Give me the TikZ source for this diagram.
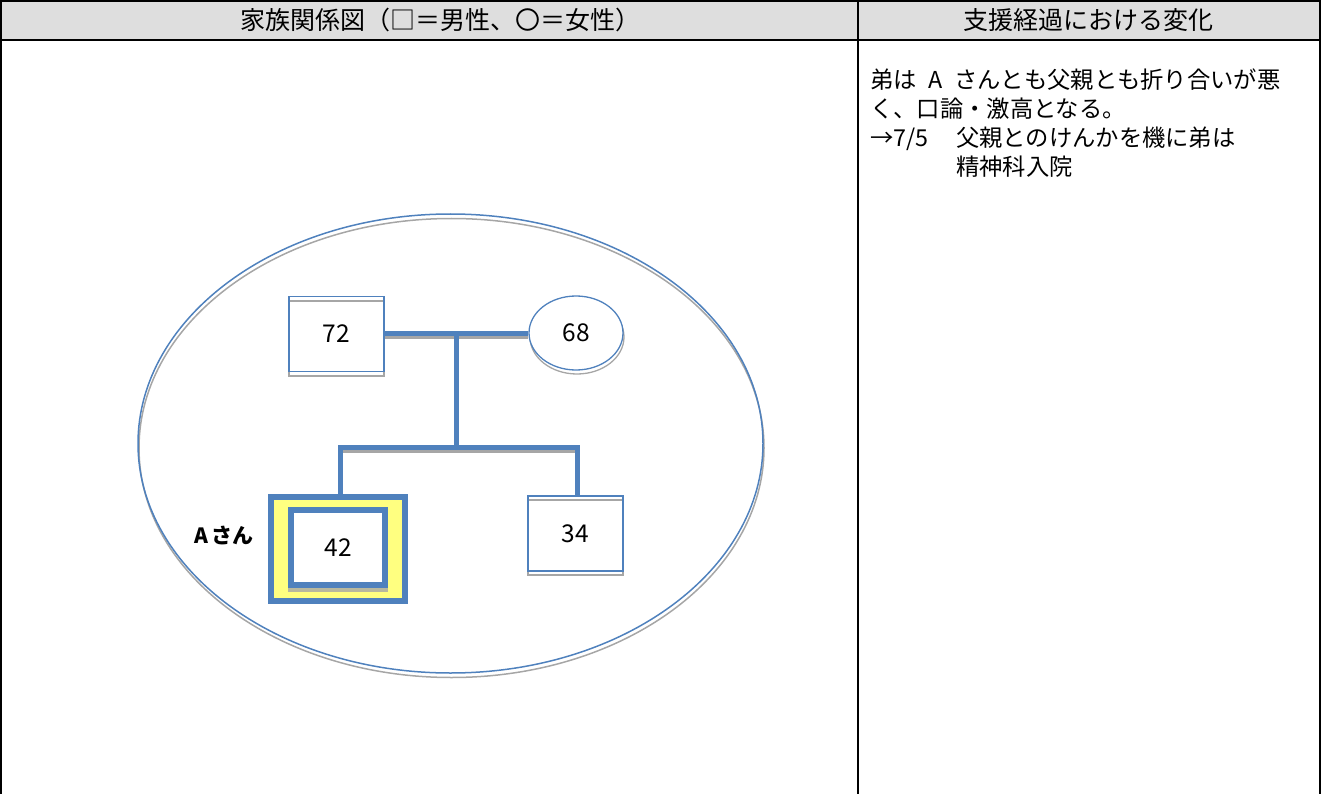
\documentclass[tikz,border=0pt]{standalone}
\usepackage{fontspec}
\setmainfont{Noto Sans CJK JP}
\usetikzlibrary{shapes.geometric}
\definecolor{oblue}{HTML}{4F81BD}
\definecolor{shgray}{HTML}{A6A6A6}
\definecolor{hdrgray}{HTML}{DEDEDE}
\definecolor{ayellow}{HTML}{FFFF80}
\begin{document}
\begin{tikzpicture}[x=1pt,y=-1pt,
  tline/.style={line width=2pt,black},
  hdrtext/.style={font=\fontsize{25}{27}\selectfont,inner sep=0pt},
  bodytext/.style={font=\fontsize{23.3}{28}\selectfont,inner sep=0pt,anchor=base west},
  numfont/.style={font=\fontsize{24.5}{26}\selectfont},
  malebox/.style={rectangle,draw=oblue,line width=1.3pt,minimum width=95pt,minimum height=75pt,inner sep=0pt,numfont},
  femalebox/.style={ellipse,draw=oblue,line width=1.3pt,minimum width=94pt,minimum height=74pt,inner sep=0pt,numfont},
  rel/.style={oblue,line width=5pt},
  relsh/.style={shgray,line width=4pt},
]
\useasboundingbox (0,0) rectangle (1322,794);
% table
\fill[hdrgray] (1,1) rectangle (1320,40);
\draw[tline] (1,794) -- (1,1) -- (1320,1) -- (1320,794);
\draw[tline] (1,40) -- (1320,40);
\draw[tline] (858,1) -- (858,794);
\node[hdrtext,anchor=west] (h1) at (240,20) {家族関係図（□＝男性、〇＝女性）};
\node[hdrtext] (h2) at (1088,20) {支援経過における変化};
% right column
\node[bodytext] (t1) at (870,89) {弟は\hspace{0.5em}A\hspace{0.5em}さんとも父親とも折り合いが悪};
\node[bodytext] (t2) at (870,118) {く、口論・激高となる。};
\node[bodytext] (t3) at (870,147) {→7/5};
\node[bodytext] (t4) at (956,147) {父親とのけんかを機に弟は};
\node[bodytext] (t5) at (956,176) {精神科入院};
% big ellipse with shadow
\draw[shgray,line width=1.5pt] (451.5,448) ellipse [x radius=312.5, y radius=229.5];
\draw[oblue,line width=1.5pt] (450.5,443.5) ellipse [x radius=312.5, y radius=229.5];
% nodes
\coordinate (fpos) at (336.5,334);
\coordinate (mpos) at (576,333);
\coordinate (bpos) at (575.5,533.5);
\draw[shgray,line width=1.3pt] (289,301) rectangle (384,376);
\draw[shgray,line width=1.3pt] (577,337) ellipse [x radius=47, y radius=37];
\draw[shgray,line width=1.3pt] (528,500) rectangle (623,575);
\node[malebox] (father) at (fpos) {72};
\node[femalebox,fill=white] (mother) at (mpos) {68};
\node[malebox] (brother) at (bpos) {34};
% A-san
\node[rectangle,draw=oblue,line width=6pt,fill=ayellow,minimum width=134pt,minimum height=104pt,inner sep=0pt] (aouter) at (338,549) {};
\fill[shgray!80!ayellow] (288,586) rectangle (388,592);
\node[rectangle,draw=oblue,line width=6pt,fill=white,minimum width=94pt,minimum height=75pt,inner sep=0pt,numfont] (ainner) at (338,547.5) {42};
\node[font=\bfseries\fontsize{21}{24}\selectfont,inner sep=0pt] (alabel) at (224,536) {A\,さん};
% connectors
\coordinate (mj) at (456,333);
\coordinate (sj) at (456,447);
\coordinate (sl) at (340,447);
\coordinate (sr) at (577,447);
\draw[relsh] ([yshift=-4pt]father.east |- mj) -- ([yshift=-4pt]mother.west |- mj);
\draw[rel] (father.east |- mj) -- (mother.west |- mj);
\draw[relsh] ([yshift=-4pt]sl) -- ([yshift=-4pt]sr);
\draw[rel] (mj) -- (sj);
\draw[rel,line cap=rect] (sl) -- (sr);
\draw[rel] (sl) -- (sl |- aouter.north);
\draw[rel] (sr) -- (sr |- brother.north);
\end{tikzpicture}
\end{document}
